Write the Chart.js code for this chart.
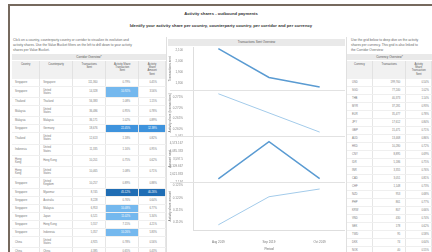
<!DOCTYPE html>
<html>
<head>
<meta charset="utf-8">
<script src="https://cdn.jsdelivr.net/npm/chart.js@4.4.1/dist/chart.umd.min.js"></script>
<style>
html, body { margin: 0; padding: 0; }
body {
    width: 432px; height: 252px; overflow: hidden; position: relative;
    background: #fff; font-family: "Liberation Sans", Arial, sans-serif; color: #666;
}
.frameTop { position: absolute; left: 8px; top: 4px; width: 424px; height: 2px; background: #76695e; }
.frameLeft { position: absolute; left: 8px; top: 4px; width: 2px; height: 248px; background: #76695e; }
.title { position: absolute; left: 10px; width: 422px; text-align: center; font-weight: bold; color: #333; }
.panel { position: absolute; top: 35px; height: 217px; overflow: hidden; }
.desc { position: absolute; left: 1px; top: 3px; font-size: 3.3px; line-height: 5px; color: #666; }
.bar {
    position: absolute; left: 0; right: 0; height: 7px; background: #e9e9e9;
    font-size: 3px; line-height: 7px; text-align: center; color: #555;
}
table { position: absolute; left: 0; border-collapse: collapse; table-layout: fixed; font-size: 2.7px; line-height: 3.2px; }
th {
    background: #f1f1f1; font-weight: normal; color: #555; vertical-align: top;
    padding: 2px 2px 0 2px; height: 16px; border-right: 1px solid #e2e2e2; text-align: center;
}
td { padding: 1.9px 3px; border-right: 1px solid #e6e6e6; border-bottom: 1px solid #efefef; color: #777; vertical-align: middle; }
td.num { text-align: right; padding-right: 8px; }
td.hi { color: #fff; }
.wrap { display: block; overflow: visible; white-space: normal; }
#chartBox { position: absolute; left: 166px; top: 44px; width: 179px; height: 208px; }
.vline { position: absolute; width: 1px; background: #e0e0e0; }
</style>
</head>
<body>
<div class="frameTop"></div>
<div class="frameLeft"></div>
<div class="title" style="top:11px;font-size:4.2px;">Activity shares - outbound payments</div>
<div class="title" style="top:23px;font-size:4.2px;">Identify your activity share per country, counterparty country, per corridor and per currency</div>

<div class="panel" style="left:12px;width:154px;">
    <div class="desc">Click on a country, counterparty country or corridor to visualize its evolution and<br>activity shares. Use the Value Bucket filters on the left to drill down to your activity<br>shares per Value Bucket.</div>
    <div class="bar" style="top:19px;height:6px;line-height:6px;">Corridor Overview*</div>
    <table id="corridorTable" style="top:26px;"></table>
</div>
<div class="vline" style="left:166px;top:37px;height:215px;"></div>

<div class="bar" style="left:168px;right:87px;top:39px;">Transactions Sent Overview</div>
<div id="chartBox"><canvas id="grafico" width="179" height="208"></canvas></div>
<div class="vline" style="left:346px;top:37px;height:215px;"></div>

<div class="panel" style="left:347px;width:85px;">
    <div class="desc" style="left:4px;">Use the grid below to deep dive on the activity<br>shares per currency. This grid is also linked to<br>the Corridor Overview</div>
    <div class="bar" style="top:19px;height:6px;line-height:6px;">Currency Overview*</div>
    <table id="currencyTable" style="top:26px;"></table>
</div>

<script>
// chart series
const periods = ['Aug 2019', 'Sep 2019', 'Oct 2019'];
const transactionsSent = [2118, 1853, 1765];
const shareTransactions = [0.2768, 0.2677, 0.2586];
const amountSent = [2317, 4695, 2330];
const shareAmount = [0.1088, 0.1204, 0.1236];

// corridor grid
const corridorCountry = ['Singapore', 'Singapore', 'Thailand', 'Malaysia', 'Malaysia', 'Singapore', 'Thailand',
    'Indonesia', 'Hong Kong', 'Hong Kong', 'Singapore', 'Singapore', 'Singapore', 'Singapore', 'Singapore',
    'Singapore', 'Singapore', 'China', 'China'];
const corridorCounterparty = ['Singapore', 'United States', 'Thailand', 'United States', 'Malaysia', 'Germany',
    'United States', 'United States', 'Hong Kong', 'United States', 'United Kingdom', 'Myanmar', 'Australia',
    'Malaysia', 'Japan', 'Hong Kong', 'Indonesia', 'United States', 'China'];
const corridorSent = ['111,360', '14,328', '56,383', '36,486', '36,171', '18,676', '12,613', '11,335', '10,201',
    '10,465', '10,257', '8,745', '8,228', '6,953', '6,521', '5,557', '5,357', '4,925', '4,385'];
const corridorShareTx = [0.79, 10.92, 1.08, 0.95, 1.02, 22.45, 1.18, 1.16, 0.75, 1.08, 0.89, 45.12, 0.76,
    10.48, 11.02, 7.15, 10.26, 0.78, 0.65];
const corridorShareAmt = [0.45, 3.56, 1.15, 0.78, 0.89, 12.38, 0.82, 0.95, 0.62, 0.71, 0.88, 40.26, 0.64,
    6.77, 5.34, 4.21, 5.83, 0.56, 0.43];

// currency grid
const currencyCodes = ['USD', 'SGD', 'THB', 'MYR', 'EUR', 'JPY', 'GBP', 'AUD', 'HKD', 'CNY', 'IDR', 'INR',
    'CAD', 'CHF', 'NZD', 'PHP', 'KRW', 'VND', 'SEK', 'TWD', 'DKK', 'NOK', 'ZAR', 'AED'];
const currencyTx = ['199,760', '77,240', '40,373', '37,281', '35,477', '17,612', '15,471', '13,468', '10,280',
    '8,895', '5,186', '3,355', '3,051', '1,148', '953', '861', '807', '430', '178', '95', '74', '40', '36', '22'];
const currencyShare = [0.54, 1.02, 1.14, 0.93, 0.78, 0.84, 0.71, 0.86, 0.72, 0.69, 0.75, 0.76, 0.81, 0.73,
    0.68, 0.77, 0.66, 0.74, 0.62, 0.58, 0.64, 0.55, 0.61, 0.52];

function corCelula(v) {
    if (v >= 40) return '#1f6db4';
    if (v >= 12) return '#3e93dd';
    if (v >= 10) return '#74b8ee';
    return '';
}

function celulaShare(v) {
    const cor = corCelula(v);
    const estilo = cor ? ' class="num hi" style="background:' + cor + '"' : ' class="num"';
    return '<td' + estilo + '>' + v.toFixed(2) + '%</td>';
}

function montarCorridor() {
    let html = '<colgroup><col style="width:28px"><col style="width:33px"><col style="width:34px">' +
        '<col style="width:33px"><col style="width:27px"></colgroup>';
    html += '<tr><th>Country</th><th>Counterparty</th><th>Transactions<br>Sent</th>' +
        '<th>Activity Share<br>Transaction<br>Sent</th><th>Activity<br>Share<br>Amount<br>Sent</th></tr>';
    corridorCountry.forEach((c, i) => {
        html += '<tr><td><span class="wrap" style="width:10px">' + c + '</span></td>' +
            '<td><span class="wrap" style="width:14px">' + corridorCounterparty[i] + '</span></td>' +
            '<td class="num">' + corridorSent[i] + '</td>' +
            celulaShare(corridorShareTx[i]) + celulaShare(corridorShareAmt[i]) + '</tr>';
    });
    document.getElementById('corridorTable').innerHTML = html;
}

function montarCurrency() {
    let html = '<colgroup><col style="width:26px"><col style="width:34px"><col style="width:26px"></colgroup>';
    html += '<tr><th>Currency</th><th>Transactions</th><th>Activity<br>Share<br>Transaction<br>Sent</th></tr>';
    currencyCodes.forEach((c, i) => {
        html += '<tr><td style="padding-left:5px">' + c + '</td><td class="num" style="padding-right:5px">' +
            currencyTx[i] + '</td><td class="num" style="padding-right:2px">' +
            currencyShare[i].toFixed(2) + '%</td></tr>';
    });
    document.getElementById('currencyTable').innerHTML = html;
}

montarCorridor();
montarCurrency();

const fonteTick = { family: 'Liberation Sans', size: 3 };
const fonteTitulo = { family: 'Liberation Sans', size: 3.2 };

function eixoY(titulo, peso, min, max, passo, formato) {
    return {
        type: 'linear',
        position: 'left',
        stack: 'paineis',
        stackWeight: peso,
        min: min,
        max: max,
        grid: { display: false },
        border: { color: '#dedede' },
        afterFit: escala => { escala.width = 25; },
        ticks: {
            stepSize: passo,
            includeBounds: false,
            autoSkip: false,
            font: fonteTick,
            color: '#888',
            padding: 2,
            callback: formato
        },
        title: { display: true, text: titulo, font: fonteTitulo, color: '#666', padding: { top: 0, bottom: 2 } }
    };
}

const milhar = v => v.toLocaleString('en-US');
const pct = v => v.toFixed(3) + '%';

function criarDataset(label, dados, eixo, cor, largura) {
    return {
        label: label,
        data: dados,
        yAxisID: eixo,
        borderColor: cor,
        borderWidth: largura,
        pointRadius: 0,
        tension: 0,
        fill: false
    };
}

const divisorias = {
    id: 'divisorias',
    afterDraw(chart) {
        const c = chart.ctx;
        c.save();
        c.strokeStyle = '#e2e2e2';
        c.lineWidth = 1;
        ['y2', 'y3', 'y4'].forEach(id => {
            const y = Math.round(chart.scales[id].top) + 0.5;
            c.beginPath();
            c.moveTo(4, y);
            c.lineTo(chart.chartArea.right, y);
            c.stroke();
        });
        c.restore();
    }
};

new Chart(document.getElementById('grafico').getContext('2d'), {
    type: 'line',
    data: {
        labels: periods,
        datasets: [
            criarDataset('Transactions sent', transactionsSent, 'y1', '#5a9bd2', 1.5),
            criarDataset('Activity share (transactions)', shareTransactions, 'y2', '#a3cbea', 1),
            criarDataset('Amount sent', amountSent, 'y3', '#5a9bd2', 1.5),
            criarDataset('Activity share amount', shareAmount, 'y4', '#a3cbea', 1)
        ]
    },
    options: {
        responsive: false,
        animation: false,
        devicePixelRatio: 1,
        layout: { padding: { top: 2, left: 2, right: 0, bottom: 0 } },
        plugins: { legend: { display: false }, tooltip: { enabled: false } },
        scales: {
            x: {
                offset: true,
                grid: { display: false },
                border: { color: '#dedede' },
                ticks: { font: fonteTick, color: '#777', padding: 2, maxRotation: 0 },
                title: { display: true, text: 'Period', font: fonteTitulo, color: '#666', padding: { top: 1, bottom: 1 } }
            },
            y4: eixoY('Activity share amount', 51, 0.10643, 0.12659, 0.005, pct),
            y3: eixoY('Amount sent', 48, 2134, 5061, 500, milhar),
            y2: eixoY('Activity share (transactions)', 48, 0.25682, 0.27864, 0.005, pct),
            y1: eixoY('Transactions sent', 44, 1738, 2126.5, 100, milhar)
        }
    },
    plugins: [divisorias]
});
</script>
</body>
</html>
